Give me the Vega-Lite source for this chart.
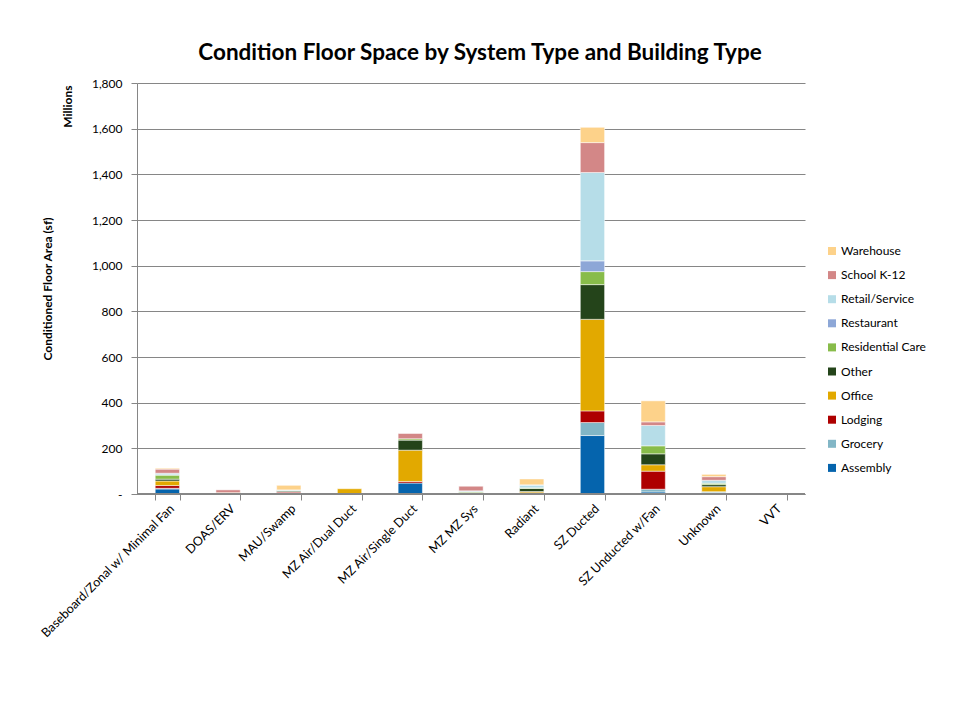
{
  "$schema": "https://vega.github.io/schema/vega-lite/v6.json",
  "width": 668,
  "height": 411,
  "autosize": {"type": "none"},
  "padding": {"left": 137, "top": 83, "right": 155, "bottom": 229},
  "background": "white",
  "config": {
    "font": "Lato",
    "view": {"stroke": null},
    "axis": {"labelColor": "#000000", "labelFontSize": 12, "titleColor": "#000000"}
  },
  "title": {
    "text": "Condition Floor Space by System Type and Building Type",
    "fontSize": 22.5,
    "fontWeight": "bold",
    "color": "#000000",
    "offset": 13,
    "dx": 9
  },
  "data": {
    "values": [
      {"system": "Baseboard/Zonal w/ Minimal Fan", "type": "Assembly", "area": 22},
      {"system": "Baseboard/Zonal w/ Minimal Fan", "type": "Grocery", "area": 3},
      {"system": "Baseboard/Zonal w/ Minimal Fan", "type": "Lodging", "area": 12},
      {"system": "Baseboard/Zonal w/ Minimal Fan", "type": "Office", "area": 20},
      {"system": "Baseboard/Zonal w/ Minimal Fan", "type": "Other", "area": 8},
      {"system": "Baseboard/Zonal w/ Minimal Fan", "type": "Residential Care", "area": 18},
      {"system": "Baseboard/Zonal w/ Minimal Fan", "type": "Restaurant", "area": 1},
      {"system": "Baseboard/Zonal w/ Minimal Fan", "type": "Retail/Service", "area": 7},
      {"system": "Baseboard/Zonal w/ Minimal Fan", "type": "School K-12", "area": 18},
      {"system": "Baseboard/Zonal w/ Minimal Fan", "type": "Warehouse", "area": 4},
      {"system": "DOAS/ERV", "type": "Lodging", "area": 1},
      {"system": "DOAS/ERV", "type": "Office", "area": 5},
      {"system": "DOAS/ERV", "type": "School K-12", "area": 12},
      {"system": "MAU/Swamp", "type": "Grocery", "area": 5},
      {"system": "MAU/Swamp", "type": "Lodging", "area": 4},
      {"system": "MAU/Swamp", "type": "Other", "area": 4},
      {"system": "MAU/Swamp", "type": "Residential Care", "area": 2},
      {"system": "MAU/Swamp", "type": "Retail/Service", "area": 3},
      {"system": "MAU/Swamp", "type": "Warehouse", "area": 20},
      {"system": "MZ Air/Dual Duct", "type": "Office", "area": 23},
      {"system": "MZ Air/Single Duct", "type": "Assembly", "area": 48},
      {"system": "MZ Air/Single Duct", "type": "Lodging", "area": 7},
      {"system": "MZ Air/Single Duct", "type": "Office", "area": 137},
      {"system": "MZ Air/Single Duct", "type": "Other", "area": 44},
      {"system": "MZ Air/Single Duct", "type": "Residential Care", "area": 6},
      {"system": "MZ Air/Single Duct", "type": "School K-12", "area": 23},
      {"system": "MZ MZ Sys", "type": "Lodging", "area": 3},
      {"system": "MZ MZ Sys", "type": "Other", "area": 3},
      {"system": "MZ MZ Sys", "type": "Residential Care", "area": 4},
      {"system": "MZ MZ Sys", "type": "Retail/Service", "area": 4},
      {"system": "MZ MZ Sys", "type": "School K-12", "area": 20},
      {"system": "Radiant", "type": "Assembly", "area": 3},
      {"system": "Radiant", "type": "Lodging", "area": 2},
      {"system": "Radiant", "type": "Office", "area": 6},
      {"system": "Radiant", "type": "Other", "area": 13},
      {"system": "Radiant", "type": "Residential Care", "area": 3},
      {"system": "Radiant", "type": "Retail/Service", "area": 12},
      {"system": "Radiant", "type": "School K-12", "area": 1},
      {"system": "Radiant", "type": "Warehouse", "area": 26},
      {"system": "SZ Ducted", "type": "Assembly", "area": 256},
      {"system": "SZ Ducted", "type": "Grocery", "area": 57},
      {"system": "SZ Ducted", "type": "Lodging", "area": 51},
      {"system": "SZ Ducted", "type": "Office", "area": 401},
      {"system": "SZ Ducted", "type": "Other", "area": 152},
      {"system": "SZ Ducted", "type": "Residential Care", "area": 57},
      {"system": "SZ Ducted", "type": "Restaurant", "area": 47},
      {"system": "SZ Ducted", "type": "Retail/Service", "area": 387},
      {"system": "SZ Ducted", "type": "School K-12", "area": 131},
      {"system": "SZ Ducted", "type": "Warehouse", "area": 67},
      {"system": "SZ Unducted w/Fan", "type": "Assembly", "area": 9},
      {"system": "SZ Unducted w/Fan", "type": "Grocery", "area": 12},
      {"system": "SZ Unducted w/Fan", "type": "Lodging", "area": 79},
      {"system": "SZ Unducted w/Fan", "type": "Office", "area": 28},
      {"system": "SZ Unducted w/Fan", "type": "Other", "area": 48},
      {"system": "SZ Unducted w/Fan", "type": "Residential Care", "area": 35},
      {"system": "SZ Unducted w/Fan", "type": "Retail/Service", "area": 89},
      {"system": "SZ Unducted w/Fan", "type": "School K-12", "area": 16},
      {"system": "SZ Unducted w/Fan", "type": "Warehouse", "area": 92},
      {"system": "Unknown", "type": "Assembly", "area": 6},
      {"system": "Unknown", "type": "Grocery", "area": 4},
      {"system": "Unknown", "type": "Office", "area": 22},
      {"system": "Unknown", "type": "Other", "area": 9},
      {"system": "Unknown", "type": "Residential Care", "area": 6},
      {"system": "Unknown", "type": "Retail/Service", "area": 13},
      {"system": "Unknown", "type": "School K-12", "area": 16},
      {"system": "Unknown", "type": "Warehouse", "area": 10},
      {"system": "VVT", "type": "Office", "area": 0}
    ]
  },
  "layer": [
    {
      "mark": {"type": "bar", "stroke": "#ffffff", "strokeWidth": 0.5},
      "encoding": {
        "x": {
          "field": "system",
          "type": "nominal",
          "sort": null,
          "scale": {
            "domain": ["Baseboard/Zonal w/ Minimal Fan", "DOAS/ERV", "MAU/Swamp", "MZ Air/Dual Duct", "MZ Air/Single Duct", "MZ MZ Sys", "Radiant", "SZ Ducted", "SZ Unducted w/Fan", "Unknown", "VVT"],
            "paddingInner": 0.6,
            "paddingOuter": 0.3
          },
          "axis": {
            "title": null,
            "labelAngle": -45,
            "labelAlign": "right",
            "labelBaseline": "top",
            "labelFontSize": 12.5,
            "labelLimit": 300,
            "labelPadding": 2,
            "tickBand": "extent",
            "tickSize": 6,
            "tickColor": "#868686",
            "domainColor": "#868686",
            "grid": false
          }
        },
        "y": {
          "field": "area",
          "type": "quantitative",
          "stack": "zero",
          "scale": {"domain": [0, 1800], "nice": false},
          "axis": {
            "title": "Conditioned Floor Area (sf)",
            "titleFontSize": 12,
            "titleFontWeight": "bold",
            "titlePadding": 37,
            "values": [0, 200, 400, 600, 800, 1000, 1200, 1400, 1600, 1800],
            "labelExpr": "datum.value == 0 ? '-' : format(datum.value, ',')",
            "labelPadding": 9,
            "tickSize": 6,
            "tickColor": "#868686",
            "domainColor": "#868686",
            "grid": true,
            "gridColor": "#868686",
            "gridWidth": 1
          }
        },
        "color": {
          "field": "type",
          "type": "nominal",
          "scale": {
            "domain": ["Warehouse", "School K-12", "Retail/Service", "Restaurant", "Residential Care", "Other", "Office", "Lodging", "Grocery", "Assembly"],
            "range": ["#FDD28A", "#D38787", "#B6DDE8", "#8DA7D7", "#88BC4A", "#24441A", "#E2A900", "#AE0000", "#82B6C6", "#0564AD"]
          },
          "legend": {
            "title": null,
            "orient": "none",
            "legendX": 689,
            "legendY": 162,
            "symbolType": "square",
            "symbolSize": 64,
            "symbolStrokeWidth": 0,
            "labelFontSize": 12,
            "labelColor": "#000000",
            "labelOffset": 3,
            "rowPadding": 12.1
          }
        },
        "order": {"field": "type", "sort": "ascending"}
      }
    },
    {
      "mark": {"type": "rule", "color": "#868686", "strokeWidth": 1},
      "encoding": {
        "y": {
          "datum": 0,
          "type": "quantitative",
          "axis": {
            "orient": "left",
            "title": "Millions",
            "titleFontSize": 12,
            "titleFontWeight": "bold",
            "titleAngle": -90,
            "titleAlign": "right",
            "titleAnchor": "end",
            "titleX": -63,
            "titleY": 2,
            "labels": false,
            "ticks": false,
            "domain": false,
            "grid": false
          }
        }
      }
    }
  ],
  "resolve": {"axis": {"y": "independent"}}
}
